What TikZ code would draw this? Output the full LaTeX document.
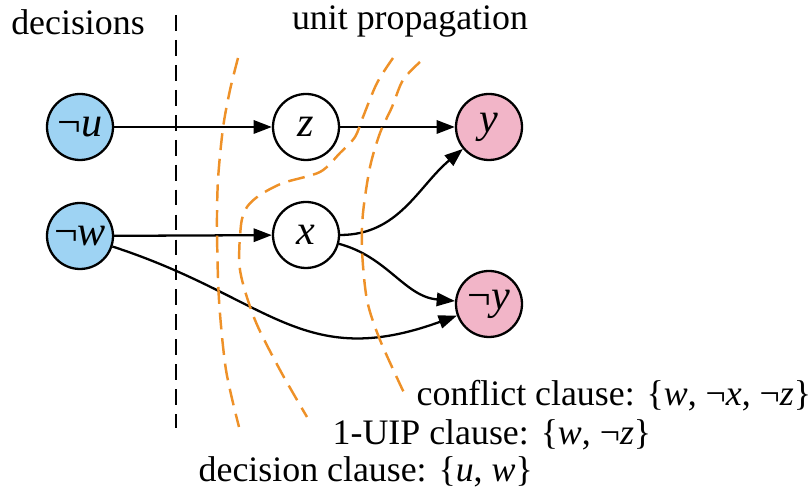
\documentclass[tikz,border=0pt]{standalone}
\usepackage{fontspec}
\setmainfont{Liberation Serif}
\usetikzlibrary{arrows.meta}
\definecolor{decc}{HTML}{9ED3F3}
\definecolor{confc}{HTML}{F2B5C8}
\definecolor{cutc}{HTML}{EE9128}
\tikzset{
  lit/.style={circle,draw,line width=.65pt,minimum size=.66cm,inner sep=0pt,font=\fontsize{12}{14}\selectfont},
  arr/.style={line width=.65pt,-{Triangle[length=5.2pt,width=3.8pt]}},
  cut/.style={cutc,line width=.7pt,dash pattern=on 4.8pt off 2.5pt},
  clause/.style={anchor=west,inner sep=0pt}
}

\begin{document}
\begin{tikzpicture}[font=\fontsize{10.2}{12}\selectfont]
\useasboundingbox (0,0) rectangle (8.11,-4.92);
\node (dec) at (.78,-.22) {decisions};
\node (up) at (4.10,-.22) {unit propagation};
\draw[line width=.6pt,dash pattern=on 4.5pt off 2.6pt] (1.76,-.15) -- (1.76,-4.28);
% literals
\node[lit,fill=decc] (nu) at (.80,-1.27) {¬\textit{u}};
\node[lit,fill=decc] (nw) at (.80,-2.36) {¬\textit{w}};
\node[lit] (z) at (3.06,-1.27) {\textit{z}};
\node[lit] (x) at (3.06,-2.35) {\textit{x}};
\node[lit,fill=confc] (y) at (4.89,-1.27) {\textit{y}};
\node[lit,fill=confc] (ny) at (4.89,-3.04) {¬\textit{y}};
\draw[arr] (nu) -- (z);
\draw[arr] (z) -- (y);
\draw[arr] (nw) -- (x);
\draw[arr] (x.east) to[out=0,in=-140] (y);
\draw[arr] (x) to[out=-15,in=175] (ny);
\draw[arr] (nw) to[out=-18,in=-160,looseness=1.2] (ny);
% cuts
\draw[cut] plot[smooth] coordinates {(2.38,-.58) (2.30,-.90) (2.23,-1.28) (2.18,-1.80) (2.17,-2.30) (2.19,-3.00) (2.26,-3.70) (2.39,-4.27)};
\draw[cut] plot[smooth] coordinates {(3.93,-.58) (3.77,-.83) (3.63,-1.17) (3.55,-1.37) (3.40,-1.53) (3.20,-1.72) (2.83,-1.83) (2.60,-1.95) (2.47,-2.07) (2.41,-2.25) (2.40,-2.70) (2.55,-3.20) (2.80,-3.70) (3.07,-4.17)};
\draw[cut] plot[smooth] coordinates {(4.20,-.62) (4.03,-.80) (3.92,-1.07) (3.80,-1.33) (3.70,-1.67) (3.63,-2.13) (3.62,-2.50) (3.67,-3.00) (3.80,-3.40) (4.05,-3.95)};
% clauses
\node[clause] (cc) at (4.16,-3.96) {conflict clause: \{\textit{w}, ¬\textit{x}, ¬\textit{z}\}};
\node[clause] (uc) at (3.32,-4.35) {1-UIP clause: \{\textit{w}, ¬\textit{z}\}};
\node[clause] (dc) at (1.98,-4.72) {decision clause: \{\textit{u}, \textit{w}\}};
\end{tikzpicture}
\end{document}
